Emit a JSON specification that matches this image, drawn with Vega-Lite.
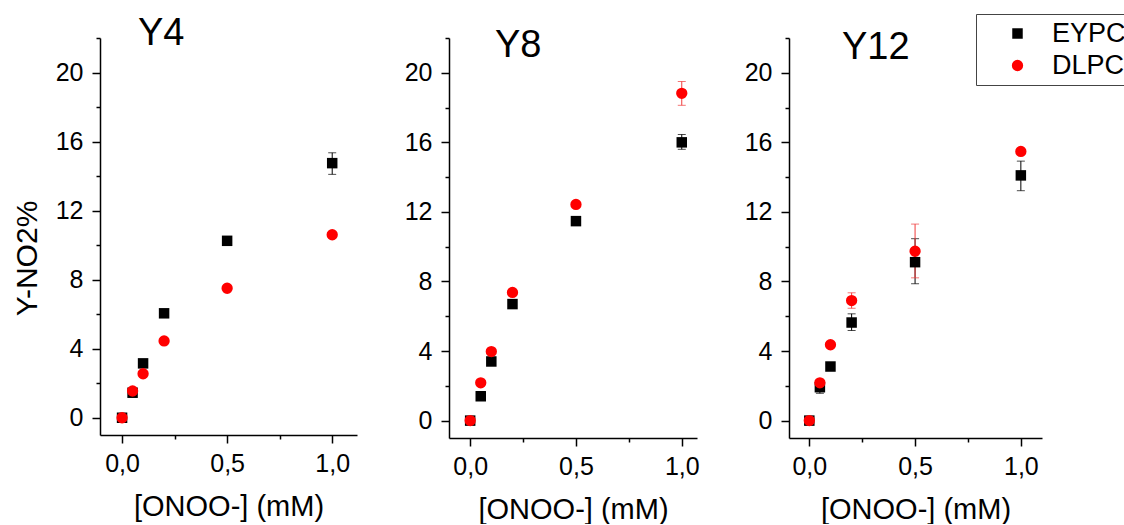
{
  "$schema": "https://vega.github.io/schema/vega-lite/v6.json",
  "autosize": {"type": "pad"},
  "padding": {"left": 12, "top": 13, "right": 0, "bottom": 0},
  "background": "white",
  "datasets": {
    "pts": [
      {"p": "Y4", "s": "EYPC", "x": 0, "y": 0},
      {"p": "Y4", "s": "EYPC", "x": 0.05, "y": 1.45},
      {"p": "Y4", "s": "EYPC", "x": 0.1, "y": 3.15},
      {"p": "Y4", "s": "EYPC", "x": 0.2, "y": 6.05},
      {"p": "Y4", "s": "EYPC", "x": 0.5, "y": 10.25},
      {"p": "Y4", "s": "EYPC", "x": 1, "y": 14.75, "lo": 14.1, "hi": 15.35},
      {"p": "Y4", "s": "DLPC", "x": 0, "y": 0},
      {"p": "Y4", "s": "DLPC", "x": 0.05, "y": 1.55},
      {"p": "Y4", "s": "DLPC", "x": 0.1, "y": 2.55},
      {"p": "Y4", "s": "DLPC", "x": 0.2, "y": 4.45},
      {"p": "Y4", "s": "DLPC", "x": 0.5, "y": 7.5},
      {"p": "Y4", "s": "DLPC", "x": 1, "y": 10.6},
      {"p": "Y8", "s": "EYPC", "x": 0, "y": 0},
      {"p": "Y8", "s": "EYPC", "x": 0.05, "y": 1.4},
      {"p": "Y8", "s": "EYPC", "x": 0.1, "y": 3.4},
      {"p": "Y8", "s": "EYPC", "x": 0.2, "y": 6.7},
      {"p": "Y8", "s": "EYPC", "x": 0.5, "y": 11.47},
      {"p": "Y8", "s": "EYPC", "x": 1, "y": 16.0, "lo": 15.6, "hi": 16.45},
      {"p": "Y8", "s": "DLPC", "x": 0, "y": 0},
      {"p": "Y8", "s": "DLPC", "x": 0.05, "y": 2.17},
      {"p": "Y8", "s": "DLPC", "x": 0.1, "y": 3.97},
      {"p": "Y8", "s": "DLPC", "x": 0.2, "y": 7.37},
      {"p": "Y8", "s": "DLPC", "x": 0.5, "y": 12.43},
      {"p": "Y8", "s": "DLPC", "x": 1, "y": 18.82, "lo": 18.13, "hi": 19.5},
      {"p": "Y12", "s": "EYPC", "x": 0, "y": 0},
      {"p": "Y12", "s": "EYPC", "x": 0.05, "y": 1.92, "lo": 1.57, "hi": 2.36},
      {"p": "Y12", "s": "EYPC", "x": 0.1, "y": 3.11},
      {"p": "Y12", "s": "EYPC", "x": 0.2, "y": 5.64, "lo": 5.18, "hi": 6.14},
      {"p": "Y12", "s": "EYPC", "x": 0.5, "y": 9.11, "lo": 7.87, "hi": 10.46},
      {"p": "Y12", "s": "EYPC", "x": 1, "y": 14.1, "lo": 13.22, "hi": 14.92},
      {"p": "Y12", "s": "DLPC", "x": 0, "y": 0},
      {"p": "Y12", "s": "DLPC", "x": 0.05, "y": 2.17},
      {"p": "Y12", "s": "DLPC", "x": 0.1, "y": 4.36},
      {"p": "Y12", "s": "DLPC", "x": 0.2, "y": 6.9, "lo": 6.46, "hi": 7.35},
      {"p": "Y12", "s": "DLPC", "x": 0.5, "y": 9.74, "lo": 8.21, "hi": 11.3},
      {"p": "Y12", "s": "DLPC", "x": 1, "y": 15.48}
    ]
  },
  "hconcat": [
    {
      "width": 257, "height": 397,
      "title": {"text": "Y4", "anchor": "start", "frame": "group", "baseline": "alphabetic", "offset": -57, "dx": 38},
      "data": {"name": "pts"},
      "transform": [{"filter": "datum.p == 'Y4'"}],
      "encoding": {
        "x": {"field": "x", "type": "quantitative",
          "scale": {"domain": [-0.105, 1.118], "nice": false, "zero": false},
          "axis": {"values": [0, 0.25, 0.5, 0.75, 1], "title": "[ONOO-] (mM)",
            "labelExpr": "datum.value % 0.5 == 0 ? replace(format(datum.value, '.1f'), '.', ',') : ''",
            "tickSize": {"condition": {"test": "datum.value % 0.5 != 0", "value": 4}, "value": 8}}}
      },
      "layer": [
        {"transform": [{"filter": "datum.s == 'EYPC' && isValid(datum.lo)"}],
         "mark": {"type": "errorbar", "rule": {"color": "black", "strokeWidth": 1}, "ticks": {"color": "black", "size": 8}},
         "encoding": {"y": {"field": "lo", "type": "quantitative", "scale": {"domain": [-1, 22], "nice": false, "zero": false},
             "axis": {"values": [0, 2, 4, 6, 8, 10, 12, 14, 16, 18, 20, 22], "title": "Y-NO2%", "titleFontSize": 30, "titlePadding": 13, "titleY": 220,
               "labelExpr": "datum.value % 4 == 0 && datum.value <= 20 ? datum.label : ''",
               "tickSize": {"condition": {"test": "datum.value % 4 != 0", "value": 4}, "value": 8}}}, "y2": {"field": "hi"}}},
        {"transform": [{"filter": "datum.s == 'DLPC' && isValid(datum.lo)"}],
         "mark": {"type": "errorbar", "rule": {"color": "#f03c3c", "strokeWidth": 1}, "ticks": {"color": "#f03c3c", "size": 8}},
         "encoding": {"y": {"field": "lo", "type": "quantitative", "scale": {"domain": [-1, 22], "nice": false, "zero": false},
             "axis": {"values": [0, 2, 4, 6, 8, 10, 12, 14, 16, 18, 20, 22], "title": "Y-NO2%", "titleFontSize": 30, "titlePadding": 13, "titleY": 220,
               "labelExpr": "datum.value % 4 == 0 && datum.value <= 20 ? datum.label : ''",
               "tickSize": {"condition": {"test": "datum.value % 4 != 0", "value": 4}, "value": 8}}}, "y2": {"field": "hi"}}},
        {"mark": {"type": "point", "filled": true, "opacity": 1},
         "encoding": {
           "y": {"field": "y", "type": "quantitative", "scale": {"domain": [-1, 22], "nice": false, "zero": false},
             "axis": {"values": [0, 2, 4, 6, 8, 10, 12, 14, 16, 18, 20, 22], "title": "Y-NO2%", "titleFontSize": 30, "titlePadding": 13, "titleY": 220,
               "labelExpr": "datum.value % 4 == 0 && datum.value <= 20 ? datum.label : ''",
               "tickSize": {"condition": {"test": "datum.value % 4 != 0", "value": 4}, "value": 8}}},
           "color": {"field": "s", "type": "nominal", "scale": {"domain": ["EYPC", "DLPC"], "range": ["black", "#ff0000"]}, "legend": null},
           "shape": {"field": "s", "type": "nominal", "scale": {"domain": ["EYPC", "DLPC"], "range": ["square", "circle"]}, "legend": null},
           "size": {"field": "s", "type": "nominal", "scale": {"domain": ["EYPC", "DLPC"], "range": [110, 128]}, "legend": null}
         }}
      ]
    },
    {
      "width": 248, "height": 400,
      "title": {"text": "Y8", "anchor": "start", "frame": "group", "baseline": "alphabetic", "offset": -69, "dx": 46},
      "data": {"name": "pts"},
      "transform": [{"filter": "datum.p == 'Y8'"}],
      "encoding": {
        "x": {"field": "x", "type": "quantitative",
          "scale": {"domain": [-0.1, 1.072], "nice": false, "zero": false},
          "axis": {"values": [0, 0.25, 0.5, 0.75, 1], "title": "[ONOO-] (mM)",
            "labelExpr": "datum.value % 0.5 == 0 ? replace(format(datum.value, '.1f'), '.', ',') : ''",
            "tickSize": {"condition": {"test": "datum.value % 0.5 != 0", "value": 4}, "value": 8}}}
      },
      "layer": [
        {"transform": [{"filter": "datum.s == 'EYPC' && isValid(datum.lo)"}],
         "mark": {"type": "errorbar", "rule": {"color": "black", "strokeWidth": 1}, "ticks": {"color": "black", "size": 8}},
         "encoding": {"y": {"field": "lo", "type": "quantitative", "scale": {"domain": [-1, 22], "nice": false, "zero": false},
             "axis": {"values": [0, 2, 4, 6, 8, 10, 12, 14, 16, 18, 20, 22], "title": null,
               "labelExpr": "datum.value % 4 == 0 && datum.value <= 20 ? datum.label : ''",
               "tickSize": {"condition": {"test": "datum.value % 4 != 0", "value": 4}, "value": 8}}}, "y2": {"field": "hi"}}},
        {"transform": [{"filter": "datum.s == 'DLPC' && isValid(datum.lo)"}],
         "mark": {"type": "errorbar", "rule": {"color": "#f03c3c", "strokeWidth": 1}, "ticks": {"color": "#f03c3c", "size": 8}},
         "encoding": {"y": {"field": "lo", "type": "quantitative", "scale": {"domain": [-1, 22], "nice": false, "zero": false},
             "axis": {"values": [0, 2, 4, 6, 8, 10, 12, 14, 16, 18, 20, 22], "title": null,
               "labelExpr": "datum.value % 4 == 0 && datum.value <= 20 ? datum.label : ''",
               "tickSize": {"condition": {"test": "datum.value % 4 != 0", "value": 4}, "value": 8}}}, "y2": {"field": "hi"}}},
        {"mark": {"type": "point", "filled": true, "opacity": 1},
         "encoding": {
           "y": {"field": "y", "type": "quantitative", "scale": {"domain": [-1, 22], "nice": false, "zero": false},
             "axis": {"values": [0, 2, 4, 6, 8, 10, 12, 14, 16, 18, 20, 22], "title": null,
               "labelExpr": "datum.value % 4 == 0 && datum.value <= 20 ? datum.label : ''",
               "tickSize": {"condition": {"test": "datum.value % 4 != 0", "value": 4}, "value": 8}}},
           "color": {"field": "s", "type": "nominal", "scale": {"domain": ["EYPC", "DLPC"], "range": ["black", "#ff0000"]}, "legend": null},
           "shape": {"field": "s", "type": "nominal", "scale": {"domain": ["EYPC", "DLPC"], "range": ["square", "circle"]}, "legend": null},
           "size": {"field": "s", "type": "nominal", "scale": {"domain": ["EYPC", "DLPC"], "range": [110, 128]}, "legend": null}
         }}
      ]
    },
    {
      "width": 253, "height": 400,
      "title": {"text": "Y12", "anchor": "start", "frame": "group", "baseline": "alphabetic", "offset": -83, "dx": 53},
      "data": {"name": "pts"},
      "transform": [{"filter": "datum.p == 'Y12'"}],
      "encoding": {
        "x": {"field": "x", "type": "quantitative",
          "scale": {"domain": [-0.096, 1.1], "nice": false, "zero": false},
          "axis": {"values": [0, 0.25, 0.5, 0.75, 1], "title": "[ONOO-] (mM)",
            "labelExpr": "datum.value % 0.5 == 0 ? replace(format(datum.value, '.1f'), '.', ',') : ''",
            "tickSize": {"condition": {"test": "datum.value % 0.5 != 0", "value": 4}, "value": 8}}}
      },
      "layer": [
        {"transform": [{"filter": "datum.s == 'EYPC' && isValid(datum.lo)"}],
         "mark": {"type": "errorbar", "rule": {"color": "black", "strokeWidth": 1}, "ticks": {"color": "black", "size": 8}},
         "encoding": {"y": {"field": "lo", "type": "quantitative", "scale": {"domain": [-1, 22], "nice": false, "zero": false},
             "axis": {"values": [0, 2, 4, 6, 8, 10, 12, 14, 16, 18, 20, 22], "title": null,
               "labelExpr": "datum.value % 4 == 0 && datum.value <= 20 ? datum.label : ''",
               "tickSize": {"condition": {"test": "datum.value % 4 != 0", "value": 4}, "value": 8}}}, "y2": {"field": "hi"}}},
        {"transform": [{"filter": "datum.s == 'DLPC' && isValid(datum.lo)"}],
         "mark": {"type": "errorbar", "rule": {"color": "#f03c3c", "strokeWidth": 1}, "ticks": {"color": "#f03c3c", "size": 8}},
         "encoding": {"y": {"field": "lo", "type": "quantitative", "scale": {"domain": [-1, 22], "nice": false, "zero": false},
             "axis": {"values": [0, 2, 4, 6, 8, 10, 12, 14, 16, 18, 20, 22], "title": null,
               "labelExpr": "datum.value % 4 == 0 && datum.value <= 20 ? datum.label : ''",
               "tickSize": {"condition": {"test": "datum.value % 4 != 0", "value": 4}, "value": 8}}}, "y2": {"field": "hi"}}},
        {"mark": {"type": "point", "filled": true, "opacity": 1},
         "encoding": {
           "y": {"field": "y", "type": "quantitative", "scale": {"domain": [-1, 22], "nice": false, "zero": false},
             "axis": {"values": [0, 2, 4, 6, 8, 10, 12, 14, 16, 18, 20, 22], "title": null,
               "labelExpr": "datum.value % 4 == 0 && datum.value <= 20 ? datum.label : ''",
               "tickSize": {"condition": {"test": "datum.value % 4 != 0", "value": 4}, "value": 8}}},
           "color": {"field": "s", "type": "nominal", "scale": {"domain": ["EYPC", "DLPC"], "range": ["black", "#ff0000"]},
             "legend": {"orient": "none", "legendX": 187, "legendY": -24, "title": null, "strokeColor": "#444444", "padding": 6, "rowPadding": 4, "symbolOffset": 22, "labelOffset": 21, "labelFontSize": 27, "symbolSize": 120}},
           "shape": {"field": "s", "type": "nominal", "scale": {"domain": ["EYPC", "DLPC"], "range": ["square", "circle"]},
             "legend": {"orient": "none", "legendX": 187, "legendY": -24, "title": null, "strokeColor": "#444444", "padding": 6, "rowPadding": 4, "symbolOffset": 22, "labelOffset": 21, "labelFontSize": 27, "symbolSize": 120}},
           "size": {"field": "s", "type": "nominal", "scale": {"domain": ["EYPC", "DLPC"], "range": [110, 128]}, "legend": null}
         }}
      ]
    }
  ],
  "spacing": 92,
  "bounds": "flush",
  "resolve": {"scale": {"color": "independent", "shape": "independent", "size": "independent"}},
  "config": {
    "view": {"stroke": null},
    "font": "Liberation Sans",
    "axis": {"domainColor": "black", "domainWidth": 1.5, "tickColor": "black", "tickWidth": 1.5,
      "labelColor": "black", "labelFontSize": 25, "labelFont": "Liberation Sans", "labelOverlap": false, "labelFlush": false,
      "titleFont": "Liberation Sans", "titleFontWeight": "normal", "titleColor": "black", "titleFontSize": 29, "grid": false},
    "axisX": {"labelPadding": 8, "titlePadding": 16},
    "axisY": {"labelPadding": 9},
    "title": {"fontSize": 38, "fontWeight": "normal", "font": "Liberation Sans", "color": "black"},
    "legend": {"labelFont": "Liberation Sans", "labelColor": "black"}
  }
}
